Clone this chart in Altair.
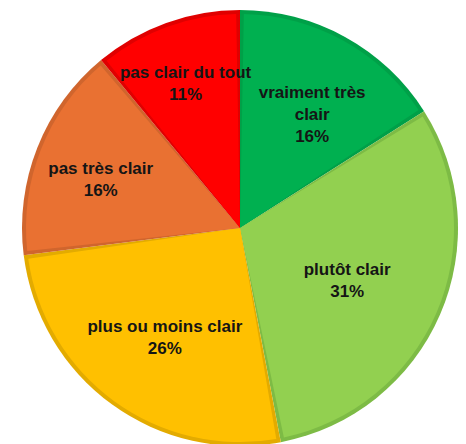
import altair as alt
import pandas as pd

categories = ["vraiment très clair", "plutôt clair", "plus ou moins clair", "pas très clair", "pas clair du tout"]
values = [16, 31, 26, 16, 11]
fill_colors = ["#00B050", "#92D050", "#FFC000", "#E97132", "#FF0000"]
border_colors = ["#00A048", "#7DBB45", "#E3AB00", "#D0652D", "#E00000"]
display_names = ["vraiment très\nclair", "plutôt clair", "plus ou moins clair", "pas très clair", "pas clair du tout"]

df = pd.DataFrame({
    "cat": categories,
    "value": values,
    "order": list(range(len(categories))),
    "label": [f"{n}\n{v}%" for n, v in zip(display_names, values)],
})
total = float(sum(values))

CX, CY = 232, 220
R = 218

base = alt.Chart(df).encode(
    theta=alt.Theta("value:Q", stack=True, scale=alt.Scale(domain=[0, total])),
    order=alt.Order("order:Q", sort="ascending"),
    x=alt.value(CX),
    y=alt.value(CY),
)

border = base.mark_arc(radius=R, stroke=None).encode(
    color=alt.Color("cat:N", scale=alt.Scale(domain=categories, range=border_colors), legend=None)
)

fill = base.mark_arc(radius=R - 4, padAngle=0.036, stroke=None).encode(
    color=alt.Color("cat:N", scale=alt.Scale(domain=categories, range=fill_colors), legend=None)
)

# best-fit style: labels of smaller slices sit farther from the centre
text = alt.Chart(df).transform_window(
    cum="sum(value)", sort=[alt.SortField("order", order="ascending")]
).transform_calculate(
    mid="datum.cum - datum.value / 2",
    lr="185 - 2.2 * datum.value",
).mark_text(
    dy=-4, font="Liberation Sans", fontSize=17, fontWeight="bold",
    color="#151515", lineBreak="\n", lineHeight=22, align="center", baseline="middle"
).encode(
    theta=alt.Theta("mid:Q", stack=None, scale=alt.Scale(domain=[0, total])),
    radius=alt.Radius("lr:Q", scale=None),
    text="label:N",
    x=alt.value(CX),
    y=alt.value(CY),
)

chart = alt.layer(border, fill, text).resolve_scale(color="independent").properties(
    width=450, height=436, autosize=alt.AutoSizeParams(type="none"), padding=0,
    background="white"
).configure_view(stroke=None)

chart.save("out.html", embed_options={"renderer": "svg", "actions": False})
